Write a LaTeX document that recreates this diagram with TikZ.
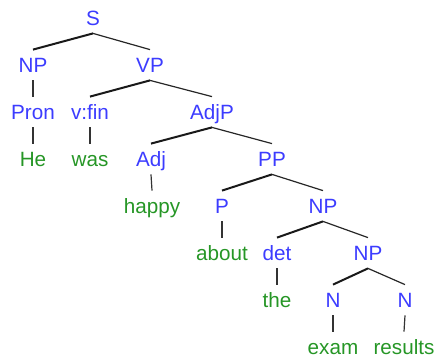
\documentclass[tikz,border=0pt]{standalone}
\usepackage{fontspec}
\setmainfont{Liberation Sans}
\definecolor{catblue}{RGB}{60,60,255}
\definecolor{wordgreen}{RGB}{38,150,38}
\begin{document}
\begin{tikzpicture}[x=0.75pt,y=-0.75pt,
  lbl/.style={font=\fontsize{15.5}{18}\selectfont, text height=11.1pt, text depth=0pt, inner xsep=0pt, inner ysep=5.8pt},
  cat/.style={lbl, text=catblue},
  word/.style={lbl, text=wordgreen},
  lbranch/.style={draw=black!90, line width=1.5pt},
  rbranch/.style={draw=black!85, line width=0.9pt},
  unary/.style={draw=black!80, line width=0.9pt}]
\useasboundingbox (0,0) rectangle (439,360);
% row 0
\node[cat] (S) at (93,18) {S};
% row 1
\node[cat] (NP1) at (33,65) {NP};
\node[cat] (VP) at (150,65) {VP};
% row 2
\node[cat] (Pron) at (33,112) {Pron};
\node[cat] (Vfin) at (90,112) {v:fin};
\node[cat] (AdjP) at (212,112) {AdjP};
% row 3
\node[word] (He) at (33,159) {He};
\node[word] (was) at (90,159) {was};
\node[cat] (Adj) at (151,159) {Adj};
\node[cat] (PP) at (272,159) {PP};
% row 4
\node[word] (happy) at (152,206) {happy};
\node[cat] (P) at (222,206) {P};
\node[cat] (NP2) at (323,206) {NP};
% row 5
\node[word] (about) at (222,253) {about};
\node[cat] (det) at (277,253) {det};
\node[cat] (NP3) at (368,253) {NP};
% row 6
\node[word] (the) at (277,300) {the};
\node[cat] (N1) at (333,300) {N};
\node[cat] (N2) at (405,300) {N};
% row 7
\node[word] (exam) at (333,347) {exam};
\node[word] (results) at (404,347) {results};
% branches
\draw[lbranch] (S.south) -- (NP1.north);
\draw[rbranch] (S.south) -- (VP.north);
\draw[lbranch] (VP.south) -- (Vfin.north);
\draw[rbranch] (VP.south) -- (AdjP.north);
\draw[lbranch] (AdjP.south) -- (Adj.north);
\draw[rbranch] (AdjP.south) -- (PP.north);
\draw[lbranch] (PP.south) -- (P.north);
\draw[rbranch] (PP.south) -- (NP2.north);
\draw[lbranch] (NP2.south) -- (det.north);
\draw[rbranch] (NP2.south) -- (NP3.north);
\draw[lbranch] (NP3.south) -- (N1.north);
\draw[rbranch] (NP3.south) -- (N2.north);
% unary
\draw[unary] (NP1.south) -- (Pron.north);
\draw[unary] (Pron.south) -- (He.north);
\draw[unary] (Vfin.south) -- (was.north);
\draw[unary] (Adj.south) -- (happy.north);
\draw[unary] (P.south) -- (about.north);
\draw[unary] (det.south) -- (the.north);
\draw[unary] (N1.south) -- (exam.north);
\draw[unary] (N2.south) -- (results.north);
\end{tikzpicture}
\end{document}
